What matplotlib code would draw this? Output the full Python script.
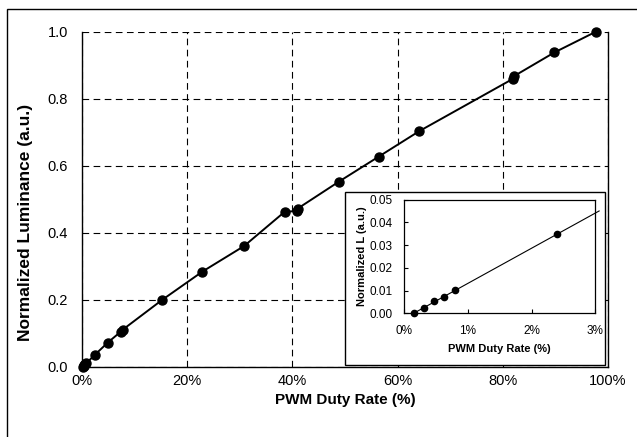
import matplotlib
matplotlib.use("Agg")
import matplotlib.pyplot as plt
import numpy as np
from matplotlib.patches import Rectangle
from matplotlib.ticker import FuncFormatter

plt.rcParams["font.family"] = ["Liberation Sans", "DejaVu Sans"]

# Main curve: PWM duty rate (%) vs normalized luminance
duty = [0.15, 0.31, 0.47, 0.63, 0.8, 2.4, 4.9, 7.4, 7.7, 15.2, 22.9, 30.8,
        38.5, 40.8, 41.0, 48.8, 56.4, 64.1, 82.0, 82.2, 89.8, 97.7]
lum = [0.0, 0.0025, 0.0054, 0.007, 0.0101, 0.0348, 0.072, 0.105, 0.11, 0.199,
       0.284, 0.360, 0.462, 0.465, 0.472, 0.552, 0.627, 0.703, 0.860, 0.868,
       0.938, 1.0]

# Inset: low duty range
inset_duty = [0.157, 0.314, 0.471, 0.63, 0.80, 2.40]
inset_lum = [0.0, 0.0025, 0.0054, 0.007, 0.0101, 0.0348]

W, H = 637, 437
fig = plt.figure(figsize=(W / 100, H / 100), dpi=100)

# outer frame (only top and left edges fall inside the picture)
fig.patches.append(Rectangle((7 / W, -0.1), 1.2, (H - 9) / H + 0.1,
                             transform=fig.transFigure, fill=False,
                             edgecolor="black", linewidth=1.0))

ax = fig.add_axes([82 / W, 1 - 366.7 / H, 526 / W, 335 / H])
ax.plot(duty, lum, color="black", lw=1.4, marker="o", ms=6.5, clip_on=False, zorder=3)
ax.set_xlim(0, 100)
ax.set_ylim(0, 1.0)
ax.set_xticks(np.arange(0, 101, 20))
ax.set_yticks(np.arange(0, 1.01, 0.2))
ax.xaxis.set_major_formatter(FuncFormatter(lambda v, p: f"{v:.0f}%"))
ax.yaxis.set_major_formatter(FuncFormatter(lambda v, p: f"{v:.1f}"))
ax.tick_params(length=0, labelsize=10.5)
ax.tick_params(axis="x", pad=5)
ax.tick_params(axis="y", pad=10)
ax.grid(True, color="black", linestyle=(0, (6, 4)), linewidth=0.8)
ax.spines["top"].set_visible(False)
for s in ("left", "bottom", "right"):
    ax.spines[s].set_linewidth(1.0)
ax.set_xlabel("PWM Duty Rate (%)", fontsize=11, fontweight="bold", labelpad=4)
ax.set_ylabel("Normalized Luminance (a.u.)", fontsize=12.5, fontweight="bold")
ax.yaxis.set_label_coords(-49 / 526, 0.432)

# white framed box behind inset
fig.patches.append(Rectangle((345 / W, 1 - 365 / H), 260 / W, 173 / H,
                             transform=fig.transFigure, facecolor="white",
                             edgecolor="black", linewidth=1.0, zorder=5))

ins = fig.add_axes([404 / W, 1 - 313.3 / H, 191.3 / W, 113.7 / H], zorder=6)
fit = np.polyfit(inset_duty, inset_lum, 1)
xf = np.array([inset_duty[0], 3.06])
ins.plot(xf, np.polyval(fit, xf), color="black", lw=0.8, clip_on=False)
ins.plot(inset_duty, inset_lum, "o", color="black", ms=4.5, clip_on=False)
ins.set_xlim(0, 3)
ins.set_ylim(0, 0.05)
ins.set_xticks([0, 1, 2, 3])
ins.set_yticks(np.arange(0, 0.051, 0.01))
ins.xaxis.set_major_formatter(FuncFormatter(lambda v, p: f"{v:.0f}%"))
ins.yaxis.set_major_formatter(FuncFormatter(lambda v, p: f"{v:.2f}"))
ins.tick_params(direction="in", length=3, width=0.8, labelsize=8.5, pad=8.5)
for s in ins.spines.values():
    s.set_linewidth(0.9)
ins.set_xlabel("PWM Duty Rate (%)", fontsize=8, fontweight="bold", labelpad=5)
ins.set_ylabel("Normalized L (a.u.)", fontsize=8, fontweight="bold", labelpad=1.5)

fig.savefig("out.png", dpi=100)
